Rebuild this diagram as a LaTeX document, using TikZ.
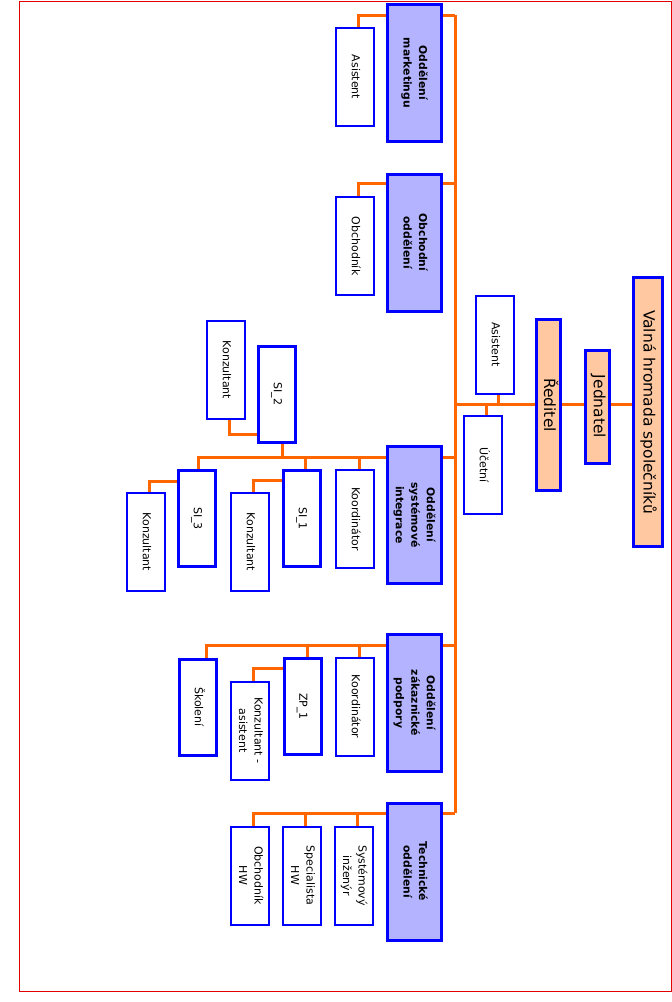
\documentclass[tikz,border=0pt]{standalone}
\usepackage{fontspec}
\setmainfont{DejaVu Sans}
\usepackage{graphicx}
\usetikzlibrary{calc}
\definecolor{org}{HTML}{FF6600}
\definecolor{deptc}{HTML}{B3B3FF}
\definecolor{peach}{HTML}{FFC8A0}
\definecolor{framec}{HTML}{E00000}
\newcommand{\rt}[1]{\rotatebox[origin=c]{-90}{\begin{tabular}{@{}c@{}}#1\end{tabular}}}
\pgfdeclarelayer{bg}
\pgfsetlayers{bg,main}
\tikzset{
  box/.style={draw=blue, inner sep=0pt, text=black},
  dept/.style={box, fill=deptc, line width=3pt, minimum width=54pt, minimum height=137pt, font=\fontsize{10.8}{15.5}\selectfont\bfseries},
  lead/.style={box, fill=white, line width=3pt, minimum width=37pt, minimum height=96pt, font=\fontsize{11}{15.5}\selectfont},
  leaf/.style={box, fill=white, line width=2pt, minimum width=38pt, minimum height=98pt, font=\fontsize{11}{15.5}\selectfont},
  topbox/.style={box, fill=peach, line width=3pt, font=\fontsize{15.5}{18}\selectfont},
  conn/.style={draw=org, line width=3pt},
}
\begin{document}
\begin{tikzpicture}[x=1pt,y=-1pt]
\useasboundingbox (0,0) rectangle (672,1002);
\draw[framec, line width=1pt] (19.5,1.5) rectangle (671,991);

% top chain
\node[topbox, minimum width=24pt, minimum height=171pt] (red) at (548.5,405) {\rt{Ředitel}};
\node[topbox, minimum width=24pt, minimum height=113pt] (jed) at (597.5,406.5) {\rt{Jednatel}};
\node[topbox, minimum width=29pt, minimum height=269pt] (val) at (647.5,412) {\rt{Valná hromada společníků}};
\node[leaf] (diras) at (495,344.5) {\rt{Asistent}};
\node[leaf] (uc) at (483,465) {\rt{Účetní}};

% departments
\node[dept] (mk) at (414.5,73) {\rt{Oddělení\\marketingu}};
\node[leaf] (mkas) at (355,77) {\rt{Asistent}};

\node[dept] (ob) at (414.5,242.5) {\rt{Obchodní\\oddělení}};
\node[leaf] (obas) at (355,246) {\rt{Obchodník}};

\node[dept] (si) at (414.5,515) {\rt{Oddělení\\systémové\\integrace}};
\node[leaf] (siko) at (355,519) {\rt{Koordinátor}};
\node[lead] (si1) at (302,518.5) {\rt{SI\_1}};
\node[leaf] (si1k) at (250,542) {\rt{Konzultant}};
\node[lead] (si2) at (277,394) {\rt{SI\_2}};
\node[leaf] (si2k) at (226,370) {\rt{Konzultant}};
\node[lead] (si3) at (197,518.5) {\rt{SI\_3}};
\node[leaf] (si3k) at (146,542) {\rt{Konzultant}};

\node[dept] (zp) at (414.5,703) {\rt{Oddělení\\zákaznické\\podpory}};
\node[leaf] (zpko) at (355,706.5) {\rt{Koordinátor}};
\node[lead] (zp1) at (302.5,706.5) {\rt{ZP\_1}};
\node[leaf] (zpka) at (250,730.5) {\rt{Konzultant -\\asistent}};
\node[lead] (sk) at (198,707) {\rt{Školení}};

\node[dept] (te) at (414.5,871.5) {\rt{Technické\\oddělení}};
\node[leaf] (tesy) at (354,875.5) {\rt{Systémový\\inženýr}};
\node[leaf] (tesp) at (302,875.5) {\rt{Specialista\\HW}};
\node[leaf] (teob) at (250,875.5) {\rt{Obchodník\\HW}};

\coordinate (tmk) at (455,15);
\coordinate (tob) at (455,183);
\coordinate (tred) at (455,404);
\coordinate (tsi) at (455,457);
\coordinate (tzp) at (455,645);
\coordinate (tte) at (455,813);

\begin{pgfonlayer}{bg}
\draw[conn] (tmk) -- (tte);
% director chain
\draw[conn] (tred) -- (tred -| red.west);
\draw[conn] (tred -| red.east) -- (tred -| jed.west);
\draw[conn] (tred -| jed.east) -- (tred -| val.west);
\draw[conn] ([xshift=3pt]diras.south) -- ([xshift=3pt]diras.south |- tred);
\draw[conn] ([xshift=3pt]uc.north) -- ([xshift=3pt]uc.north |- tred);
% marketing
\draw[conn] (mk.east |- tmk) -- (tmk);
\draw[conn] (mk.west |- tmk) -| ([xshift=3pt]mkas.north);
% obchodni
\draw[conn] (ob.east |- tob) -- (tob);
\draw[conn] (ob.west |- tob) -| ([xshift=3pt]obas.north);
% SI
\draw[conn] (si.east |- tsi) -- (tsi);
\draw[conn] (si.west |- tsi) -| ([xshift=1pt]si3.north);
\draw[conn] ([xshift=4pt]siko.north) -- ([xshift=4pt]siko.north |- tsi);
\draw[conn] ([xshift=3pt]si1.north) -- ([xshift=3pt]si1.north |- tsi);
\draw[conn] ([xshift=5pt]si2.south) -- ([xshift=5pt]si2.south |- tsi);
\draw[conn] ($(si1.north west)+(0,11)$) -| ([xshift=3pt]si1k.north);
\draw[conn] ($(si3.north west)+(0,12)$) -| ([xshift=3pt]si3k.north);
\draw[conn] ($(si2.south west)+(0,-9)$) -| ([xshift=3pt]si2k.south);
% ZP
\draw[conn] (zp.east |- tzp) -- (tzp);
\draw[conn] (zp.west |- tzp) -| ([xshift=8pt]sk.north);
\draw[conn] ([xshift=4pt]zpko.north) -- ([xshift=4pt]zpko.north |- tzp);
\draw[conn] ([xshift=5pt]zp1.north) -- ([xshift=5pt]zp1.north |- tzp);
\draw[conn] ($(zp1.north west)+(0,11)$) -| ([xshift=3pt]zpka.north);
% Tech
\draw[conn] (te.east |- tte) -- (tte);
\draw[conn] (te.west |- tte) -| ([xshift=3pt]teob.north);
\draw[conn] ([xshift=3pt]tesy.north) -- ([xshift=3pt]tesy.north |- tte);
\draw[conn] ([xshift=3pt]tesp.north) -- ([xshift=3pt]tesp.north |- tte);
\end{pgfonlayer}
\end{tikzpicture}
\end{document}
